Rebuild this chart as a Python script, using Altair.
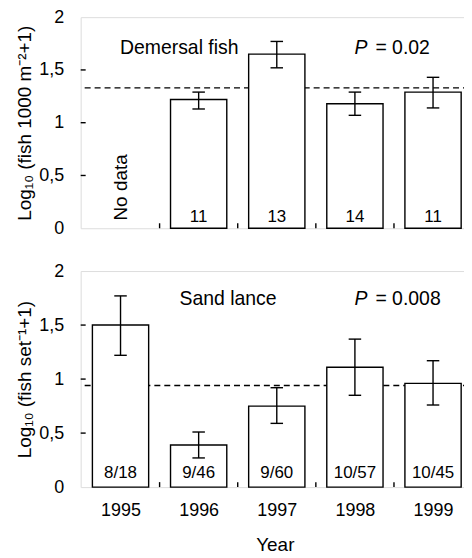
import altair as alt
import pandas as pd

years = [1995, 1996, 1997, 1998, 1999]

# Demersal fish (top panel); 1995 has no data
dem_mean = [None, 1.22, 1.65, 1.18, 1.29]
dem_lo = [None, 1.13, 1.52, 1.07, 1.14]
dem_hi = [None, 1.29, 1.77, 1.29, 1.43]
dem_n = ["", "11", "13", "14", "11"]
dem_ref = 1.33

# Sand lance (bottom panel)
sl_mean = [1.50, 0.39, 0.75, 1.11, 0.96]
sl_lo = [1.22, 0.27, 0.59, 0.85, 0.76]
sl_hi = [1.77, 0.51, 0.92, 1.37, 1.17]
sl_n = ["8/18", "9/46", "9/60", "10/57", "10/45"]
sl_ref = 0.94

between = [1995.5, 1996.5, 1997.5, 1998.5]
yticks = [0.5, 1.0, 1.5]

FONT = "Liberation Sans"
XDOM = [1994.49, 1999.46]
W = 390


def panel(mean, lo, hi, n, ref, ytitle, label, ptext, height, show_x, nodata=False):
    df = pd.DataFrame({"year": years, "mean": mean, "lo": lo, "hi": hi, "n": n})
    xs = alt.Scale(domain=XDOM, nice=False, zero=False)
    ys = alt.Scale(domain=[0, 2], nice=False)
    base = alt.Chart(df)
    if show_x:
        xax = alt.Axis(values=years, format="d", ticks=False, domain=False, grid=False,
                       labelFontSize=18, labelPadding=15, title="Year", titleFontSize=19,
                       titleFontWeight="normal", titlePadding=16, labelFont=FONT, titleFont=FONT,
                       labelColor="black", titleColor="black")
    else:
        xax = None
    yax = alt.Axis(values=[0, 0.5, 1, 1.5, 2],
                   labelExpr="replace(toString(datum.value), '.', ',')",
                   ticks=False, domain=False, grid=False, labelFontSize=18, labelPadding=17,
                   labelFont=FONT, titleFont=FONT, title=ytitle, titleFontSize=19,
                   titleFontWeight="normal", titlePadding=4, labelColor="black",
                   titleColor="black", labelFlush=False)

    ty = 31 if not show_x else 28
    bars = base.transform_filter("datum.mean != null").transform_calculate(
        x0="datum.year - 0.36", x1="datum.year + 0.36"
    ).mark_rect(fill="white", stroke="black", strokeWidth=1.4).encode(
        x=alt.X("x0:Q", scale=xs, axis=xax),
        x2="x1:Q",
        y=alt.Y("mean:Q", scale=ys, axis=yax),
        y2=alt.datum(0),
    )
    err = base.transform_filter("datum.mean != null").mark_rule(color="black", strokeWidth=1.4).encode(
        x=alt.X("year:Q", scale=xs), y=alt.Y("lo:Q", scale=ys), y2="hi:Q"
    )
    caps = base.transform_filter("datum.mean != null").transform_fold(["lo", "hi"], as_=["k", "v"]).transform_calculate(
        c0="datum.year - 0.08", c1="datum.year + 0.08"
    ).mark_rule(color="black", strokeWidth=1.4).encode(
        x=alt.X("c0:Q", scale=xs), x2="c1:Q", y=alt.Y("v:Q", scale=ys)
    )
    ntext = base.mark_text(font=FONT, fontSize=17, color="black").encode(
        x=alt.X("year:Q", scale=xs), y=alt.value(height - 11 if not show_x else height - 14), text="n:N"
    )
    refline = alt.Chart(pd.DataFrame({"ref": [ref]})).mark_rule(
        color="black", strokeDash=[6, 4], strokeWidth=1.5
    ).encode(y=alt.Y("ref:Q", scale=ys))
    xt = alt.Chart(pd.DataFrame({"b": between})).mark_rule(color="black", strokeWidth=1.4).encode(
        x=alt.X("b:Q", scale=xs), y=alt.value(height), y2=alt.value(height - 5)
    )
    yt = alt.Chart(pd.DataFrame({"v": yticks})).mark_rule(color="black", strokeWidth=1.4).encode(
        y=alt.Y("v:Q", scale=ys), x=alt.value(0), x2=alt.value(5)
    )
    lab = alt.Chart(pd.DataFrame({"t": [label]})).mark_text(
        font=FONT, fontSize=19.5, color="black", align="center"
    ).encode(x=alt.value(99 if not show_x else 148), y=alt.value(ty), text="t:N")
    pP = alt.Chart(pd.DataFrame({"t": ["P"]})).mark_text(
        font=FONT, fontSize=19.5, fontStyle="italic", color="black", align="left"
    ).encode(x=alt.value(275), y=alt.value(ty), text="t:N")
    pv = alt.Chart(pd.DataFrame({"t": [ptext]})).mark_text(
        font=FONT, fontSize=19.5, color="black", align="left"
    ).encode(x=alt.value(296), y=alt.value(ty), text="t:N")
    layers = [refline, bars, err, caps, ntext, xt, yt, lab, pP, pv]
    if nodata:
        nd = alt.Chart(pd.DataFrame({"t": ["No data"], "year": [1995]})).mark_text(
            font=FONT, fontSize=19, color="black", angle=270, align="center", baseline="middle"
        ).encode(x=alt.X("year:Q", scale=xs), y=alt.value(height - 41), text="t:N")
        layers.append(nd)
    return alt.layer(*layers).properties(width=W, height=height)


top = panel(dem_mean, dem_lo, dem_hi, dem_n, dem_ref,
            "Log\u2081\u2080 (fish 1000 m\u207b\u00b2+1)", "Demersal fish", "= 0.02", 212, False, nodata=True)
bottom = panel(sl_mean, sl_lo, sl_hi, sl_n, sl_ref,
               "Log\u2081\u2080 (fish set\u207b\u00b9+1)", "Sand lance", "= 0.008", 217, True)

chart = alt.vconcat(top, bottom, spacing=43, bounds="flush").properties(
    padding={"left": 7, "top": -2, "right": -7, "bottom": 2}
).configure_view(stroke="black", strokeWidth=1.5).configure(background="white")

chart.save("out.html", embed_options={"renderer": "svg", "actions": False})
